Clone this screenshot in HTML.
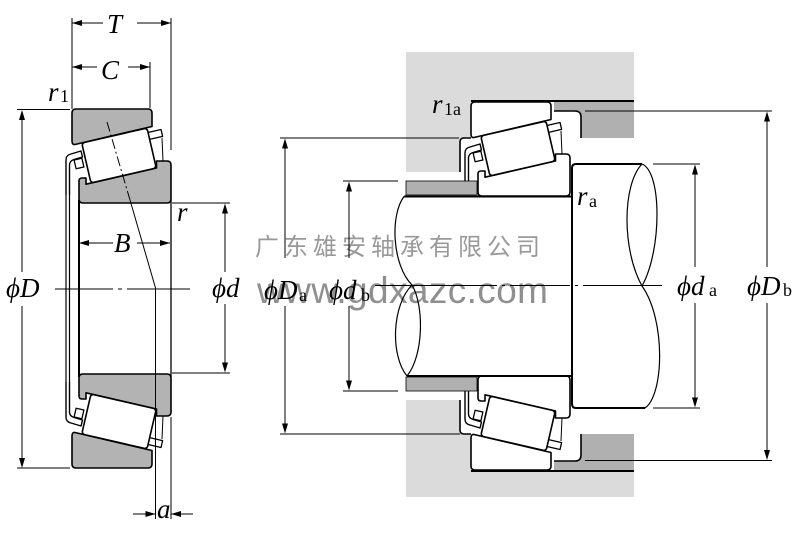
<!DOCTYPE html>
<html><head><meta charset="utf-8"><style>
html,body{margin:0;padding:0;background:#fff;}
svg{display:block;}
.l{font-family:"Liberation Serif","DejaVu Serif",serif;font-style:italic;font-size:27px;fill:#000;}
.s{font-family:"Liberation Serif","DejaVu Serif",serif;font-size:18px;fill:#000;}
</style></head><body>
<svg width="800" height="537" viewBox="0 0 800 537" xmlns="http://www.w3.org/2000/svg">
<defs>
<g id="brg" stroke="#000" stroke-linejoin="round">
 <path stroke-width="1.6" d="M76,109 H148 Q152,109 152,113 V126.5 L75,144.5 Q72,145 72,141 V113 Q72,109 76,109 Z"/>
 <path stroke-width="1.6" d="M82,178 H86 V184.2 L156.5,168 V161 H167 Q171,161 171,165 V199 Q171,203 167,203 H83 Q79,203 79,199 V181 Q79,178 82,178 Z"/>
 <path fill="none" stroke-width="1" d="M162,138 L163,161"/>
 <rect fill="#fff" stroke-width="1.3" x="148" y="131" width="14" height="7" transform="rotate(-13 155 134.5)"/>
 <path fill="#fff" stroke-width="1.4" d="M66,195 V160 Q66,155 71,154 L81,151 L82.5,157 L74,159.5 Q69.5,161 69.5,165 V195"/>
 <rect fill="#fff" stroke-width="1.3" x="75" y="159" width="8" height="9" transform="rotate(-13 79 163.5)"/>
 <rect fill="#fff" stroke-width="1.6" x="85.5" y="135" width="67" height="41" rx="3" transform="rotate(-13 119 155.5)"/>
</g>
</defs>
<rect width="800" height="537" fill="#fff"/>

<!-- watermark -->
<text x="255" y="255" font-family="'Noto Sans CJK SC','WenQuanYi Zen Hei',sans-serif" font-size="24" letter-spacing="5" fill="#999">广东雄安轴承有限公司</text>
<text x="257" y="303" font-family="'Liberation Sans',sans-serif" font-size="37" fill="#8f8f8f" textLength="291" lengthAdjust="spacing">www.gdxazc.com</text>

<!-- right housing fills -->
<path fill="#dbdbdb" d="M406,52 H634 V101 H471 V138 H464 Q460,138 460,142 V172 H406 Z"/>
<path fill="#dbdbdb" d="M406,400 H460 V430 Q460,434 464,434 H471 V471 H634 V497 H406 Z"/>
<path fill="#b0b0b0" d="M554,101 H634 V138 H581 V117 Q581,111 575,111 H554 Z"/>
<path fill="#b0b0b0" d="M554,471 H634 V434 H581 V455 Q581,461 575,461 H554 Z"/>

<!-- left bearing -->
<use href="#brg" fill="#b3b3b3"/>
<use href="#brg" fill="#b3b3b3" transform="matrix(1 0 0 -1 0 577)"/>
<g stroke="#000" fill="none">
 <path stroke-width="1.2" d="M66,195 V382 M69.5,195 V382"/>
 <path stroke-width="2" d="M79,200 V377"/>
 <path stroke-width="1.3" d="M171,200 V377"/>
</g>

<!-- right bearing -->
<use href="#brg" fill="#fff" transform="translate(399,-7)"/>
<use href="#brg" fill="#fff" transform="matrix(1 0 0 -1 399 579)"/>

<!-- spacers -->
<rect x="406" y="181" width="71" height="14" fill="#b0b0b0" stroke="#000" stroke-width="0.8"/>
<rect x="406" y="377" width="71" height="14" fill="#b0b0b0" stroke="#000" stroke-width="0.8"/>

<!-- housing outlines -->
<g stroke="#000" fill="none" stroke-width="2">
 <path d="M471,101 H634 M471,471 H634"/>
 <path stroke-width="1.6" d="M471,138 H464 Q460,138 460,142 V172"/>
 <path stroke-width="1.6" d="M471,434 H464 Q460,434 460,430 V400"/>
 <path stroke-width="1.6" d="M554,111 H575 Q581,111 581,117 V138"/>
 <path stroke-width="1.6" d="M554,461 H575 Q581,461 581,455 V434"/>
</g>

<!-- shafts -->
<g stroke="#000" fill="none">
 <path stroke-width="2" d="M404,196.5 H572 M407,376 H572"/>
 <path stroke-width="1.2" d="M404,196.5 C390,215 392,265 412,285 C424,305 424,355 407,376 M412,285 C392,305 390,355 407,376"/>
 <path stroke-width="2" d="M642,164 H576 Q572,164 572,168 V404 Q572,408 576,408 H645"/>
 <path stroke-width="1.2" d="M642,164 C662,172 662,250 642,286 C666,320 664,395 645,408 M642,164 C622,185 622,250 642,286"/>
</g>

<!-- left dimension lines -->
<g stroke="#000" fill="none" stroke-width="1">
 <path d="M72,18 V109 M171,18 V150 M72,23 H103 M137,23 H171"/>
 <path d="M150,62 V108 M72,67 H97 M128,67 H150"/>
 <path d="M17,109.5 H70 M17,468 H70 M22,112 V272 M22,306 V466"/>
 <path d="M172,203 H230 M172,373 H230 M225,206 V272 M225,304 V370"/>
 <path d="M79,243 H113 M137,243 H170"/>
 <path d="M55,289 H113 M118,289 H122 M127,289 H190"/>
 <path d="M107,122 L130,200" stroke-dasharray="10 3 2 3"/>
 <path d="M130,200 L155.5,288 V519 M171,417 V519"/>
 <path d="M133,514 H155 M171,514 H193"/>
</g>
<g fill="#000">
 <polygon points="72,23 82,20 82,26"/><polygon points="171,23 161,20 161,26"/>
 <polygon points="72,67 82,64 82,70"/><polygon points="150,67 140,64 140,70"/>
 <polygon points="22,110 19,120 25,120"/><polygon points="22,468 19,458 25,458"/>
 <polygon points="225,203.5 222,213.5 228,213.5"/><polygon points="225,372.5 222,362.5 228,362.5"/>
 <polygon points="79,243 89,240 89,246"/><polygon points="170,243 160,240 160,246"/>
 <polygon points="155.5,514 145.5,511 145.5,517"/><polygon points="171,514 181,511 181,517"/>
</g>

<!-- right dimension lines -->
<g stroke="#000" fill="none" stroke-width="1">
 <path d="M280,138 H459 M280,434 H460 M285,141 V258 M285,306 V431"/>
 <path d="M343,181 H398 M343,391 H398 M349,184 V258 M349,306 V388"/>
 <path d="M653,164 H700 M653,408 H700 M695,167 V267 M695,303 V405"/>
 <path d="M585,111 H772 M585,460.5 H772 M767,114 V267 M767,303 V457"/>
 <path d="M375,285.5 H497 M502,285.5 H505 M510,285.5 H570 M575,285.5 H578 M583,285.5 H662"/>
</g>
<g fill="#000">
 <polygon points="285,138.5 282,148.5 288,148.5"/><polygon points="285,433.5 282,423.5 288,423.5"/>
 <polygon points="349,181.5 346,191.5 352,191.5"/><polygon points="349,390.5 346,380.5 352,380.5"/>
 <polygon points="695,164.5 692,174.5 698,174.5"/><polygon points="695,407.5 692,397.5 698,397.5"/>
 <polygon points="767,111.5 764,121.5 770,121.5"/><polygon points="767,460 764,450 770,450"/>
</g>

<!-- labels -->
<text class="l" x="107" y="33" font-size="29">T</text>
<text class="l" x="101" y="79" font-size="29">C</text>
<text class="l" x="48" y="101" font-size="28">r</text><text class="s" x="60" y="102" font-size="14">1</text>
<text class="l" x="114" y="252">B</text>
<text class="l" x="177" y="221" font-size="26">r</text>
<text class="l" x="6" y="297">ϕD</text>
<text class="l" x="212" y="297">ϕd</text>
<text class="l" x="157" y="518" font-size="24">a</text>

<text class="l" x="264" y="299">ϕD</text><text class="s" x="299" y="301">a</text>
<text class="l" x="329" y="299">ϕd</text><text class="s" x="361" y="301">b</text>
<text class="l" x="677" y="295">ϕd</text><text class="s" x="709" y="296">a</text>
<text class="l" x="747" y="295">ϕD</text><text class="s" x="783" y="296">b</text>
<text class="l" x="432" y="113" font-size="27">r</text><text class="s" x="444" y="115" font-size="16">1a</text>
<text class="l" x="577" y="205" font-size="27">r</text><text class="s" x="589" y="207" font-size="16">a</text>
</svg>
</body></html>
